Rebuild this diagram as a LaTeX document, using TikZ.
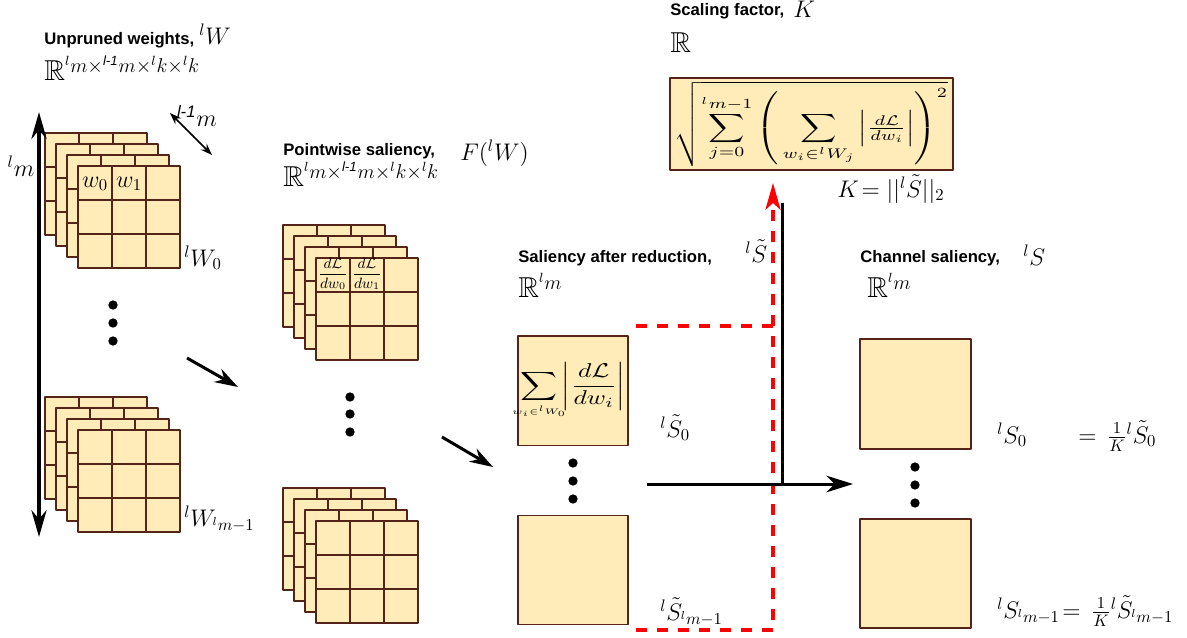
\documentclass[tikz,border=0pt]{standalone}
\usepackage{amsmath,amssymb,mathtools}
\usepackage{graphicx}
\usepackage{fontspec}
\newfontfamily\hfont{Liberation Sans}
\usetikzlibrary{arrows.meta}
\definecolor{cellfill}{RGB}{255,236,184}
\definecolor{celledge}{RGB}{84,36,24}
\newcommand{\lmo}{\text{\hfont\itshape l-1}}
\newcommand{\realsp}[1]{$\mathbb{R}$\raisebox{4.5pt}{\large$#1$}}

\begin{document}
\begin{tikzpicture}[
	line join=round,
	>=Stealth,
	x=0.6pt, y=-0.6pt,
	cell/.style={fill=cellfill, draw=celledge, line width=0.7pt},
	celline/.style={draw=celledge, line width=0.8pt},
	ttl/.style={anchor=base west, inner sep=0pt, font=\hfont\bfseries},
	lbl/.style={anchor=base west, inner sep=0pt, font=\Large},
	dims/.style={anchor=base west, inner sep=0pt, font=\LARGE},
	dot/.style={circle, fill=black, inner sep=0pt, minimum size=5.6pt},
	flow/.style={line width=1.8pt, -{Stealth[length=14pt,width=9pt]}},
	bigflow/.style={line width=1.8pt, -{Stealth[length=16pt,width=10pt,inset=5pt]}},
	reddash/.style={red, line width=2.2pt, dash pattern=on 6.6pt off 6pt},
	sbox/.style={cell, inner sep=0pt, minimum width=66pt, minimum height=65.5pt},
	]
	\useasboundingbox (0,0) rectangle (1187,637);
	
	% Stacks of 3x3 kernels (back to front)
	\foreach \sx/\sy in {45/133, 45/397, 283/225, 283/488}{
		\foreach \k in {0,1,2,3}{
			\pgfmathsetmacro\lx{\sx+11*\k}
			\pgfmathsetmacro\ly{\sy+11*\k}
			\draw[cell] (\lx,\ly) rectangle ++(102,102);
			\draw[celline] (\lx+34,\ly) -- ++(0,102) (\lx+68,\ly) -- ++(0,102)
			(\lx,\ly+34) -- ++(102,0) (\lx,\ly+68) -- ++(102,0);
		}
	}
	
	% Entries of the front kernels
	\node[font=\Large] (w0) at (95,184) {$w_0$};
	\node[font=\Large] (w1) at (129,184) {$w_1$};
	\node[font=\small, inner sep=0pt] (g0) at (333,274) {$\dfrac{d\mathcal{L}}{dw_0}$};
	\node[font=\small, inner sep=0pt] (g1) at (367,274) {$\dfrac{d\mathcal{L}}{dw_1}$};
	
	% Unpruned weights
	\node[ttl] (t1) at (44,44) {Unpruned weights,};
	\node[lbl] (t1m) at (199,44) {${}^lW$};
	\node[dims] (d1) at (44,80) {\realsp{{}^lm{\times}{}^{\lmo}m{\times}{}^lk{\times}{}^lk}};
	\node[lbl] (W0) at (184,266) {${}^lW_0$};
	\node[lbl] (Wm) at (184,526) {${}^lW_{{}^lm-1}$};
	\node[lbl, anchor=center] (mlab) at (21,166) {${}^lm$};
	\node[lbl, anchor=center] (mlab2) at (197,116) {${}^{\lmo}m$};
	
	\coordinate (mtop) at (39,112);
	\coordinate (mbot) at (39,537);
	\draw[line width=2.6pt, {Stealth[length=16pt,width=9pt]}-{Stealth[length=16pt,width=9pt]}] (mtop) -- (mbot);
	\coordinate (ctop) at (170,113);
	\coordinate (cbot) at (212,155);
	\draw[line width=0.9pt, {Stealth[length=7pt,width=5pt]}-{Stealth[length=7pt,width=5pt]}] (ctop) -- (cbot);
	
	% Dots
	\foreach \dx/\dy/\dn in {113/305/l1, 113/323/l2, 113/341/l3,
		350/397/p1, 350/414/p2, 350/432/p3,
		573/463/s1, 573/481/s2, 573/499/s3,
		915/467/c1, 915/485/c2, 915/503/c3}{
		\node[dot] (dot\dn) at (\dx,\dy) {};
	}
	
	% Pointwise saliency
	\node[ttl] (t2) at (283,155) {Pointwise saliency,};
	\node[lbl] (t2m) at (460,160) {$F({}^lW)$};
	\node[dims] (d2) at (283,186) {\realsp{{}^lm{\times}{}^{\lmo}m{\times}{}^lk{\times}{}^lk}};
	
	\coordinate (a1s) at (187,358);
	\coordinate (a1e) at (238,387);
	\coordinate (a2s) at (442,437);
	\coordinate (a2e) at (493,467);
	\draw[flow] (a1s) -- (a1e);
	\draw[flow] (a2s) -- (a2e);
	
	% Saliency after reduction
	\node[ttl] (t3) at (518,262) {Saliency after reduction,};
	\node[dims] (d3) at (518,297) {\realsp{{}^lm}};
	\node[sbox] (st0) at (573,390.5) {\resizebox*{63pt}{34pt}{$\displaystyle\sum_{\mathclap{\scalebox{0.8}{$\scriptscriptstyle w_i\in{}^lW_0$}}}\left|\frac{d\mathcal{L}}{dw_i}\right|$}};
	\node[sbox] (st1) at (573,570) {};
	\node[lbl] (st0l) at (660,437) {${}^l\tilde{S}_0$};
	\node[lbl] (st1l) at (660,620) {${}^l\tilde{S}_{{}^lm-1}$};
	\node[lbl] (stl) at (745,262) {${}^l\tilde{S}$};
	
	% Gathering the reduced saliency
	\coordinate (rt) at (636,326);
	\coordinate (rtc) at (773,326);
	\coordinate (rb) at (636,630);
	\coordinate (rbc) at (773,630);
	\coordinate (rtip) at (773,183);
	\draw[reddash] (rt) -- (rtc);
	\draw[reddash, -{Stealth[length=16pt,width=9pt,inset=4pt]}] (rb) -- (rbc) -- (rtip);
	
	\coordinate (ktop) at (782,203);
	\coordinate (kmid) at (782,484);
	\coordinate (hs) at (647,484);
	\coordinate (he) at (853,484);
	\draw[line width=1.8pt] (ktop) -- (kmid);
	\draw[bigflow] (hs) -- (he);
	
	% Scaling factor
	\node[ttl] (t4) at (670,15) {Scaling factor,};
	\node[lbl] (t4m) at (793,17) {$K$};
	\node[dims] (d4) at (670,52) {$\mathbb{R}$};
	\node[cell, inner sep=0pt, minimum width=169.8pt, minimum height=55.2pt] (kbox) at (811.5,124)
	{\resizebox*{164pt}{51pt}{$\displaystyle\sqrt{\sum_{j=0}^{{}^lm-1}\left(\,\sum_{w_i\in{}^lW_j}\left|\tfrac{d\mathcal{L}}{dw_i}\right|\right)^{2}}$}};
	\node[lbl] (kdef) at (837,197) {$K\!=||{}^l\tilde{S}||_2$};
	
	% Channel saliency
	\node[ttl] (t5) at (860,262) {Channel saliency,};
	\node[lbl] (t5m) at (1023,265) {${}^lS$};
	\node[dims] (d5) at (867,297) {\realsp{{}^lm}};
	\node[sbox, minimum width=66.6pt, minimum height=66pt] (s0) at (915.5,394) {};
	\node[sbox, minimum width=66.6pt, minimum height=65.4pt] (s1) at (915.5,573.5) {};
	\node[lbl] (s0l) at (997,443) {${}^lS_0$};
	\node[lbl] (s0r) at (1078,443) {$=\,\frac{1}{K}{}^l\tilde{S}_0$};
	\node[lbl] (s1l) at (997,618) {${}^lS_{{}^lm-1}\!=\,\frac{1}{K}{}^l\tilde{S}_{{}^lm-1}$};
	
\end{tikzpicture}
\end{document}
